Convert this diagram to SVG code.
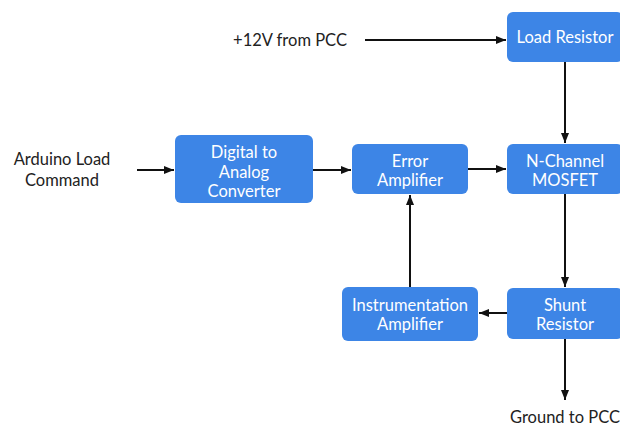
<svg xmlns="http://www.w3.org/2000/svg" width="620" height="426" viewBox="0 0 620 426">
<defs>
<marker id="ah" viewBox="0 0 10 10" refX="10" refY="5" markerWidth="10" markerHeight="10" markerUnits="userSpaceOnUse" orient="auto">
<path d="M0,1 L10,5 L0,9 z" fill="#111"/>
</marker>
<style>
.box{fill:#3d85e6;}
.bt{font-family:Lato,"Open Sans",sans-serif;font-size:16.5px;fill:#fff;text-anchor:middle;}
.lt{font-family:Lato,"Open Sans",sans-serif;font-size:16.5px;fill:#222;text-anchor:middle;}
.c{stroke:#111;stroke-width:2;fill:none;marker-end:url(#ah);}
</style>
</defs>
<rect width="620" height="426" fill="#fff"/>
<g id="connectors">
<line class="c" x1="365" y1="40" x2="506" y2="40"/>
<line class="c" x1="137" y1="170" x2="174" y2="170"/>
<line class="c" x1="313" y1="170" x2="351" y2="170"/>
<line class="c" x1="468" y1="169" x2="506" y2="169"/>
<line class="c" x1="565" y1="62" x2="565" y2="143"/>
<line class="c" x1="565" y1="194" x2="565" y2="287"/>
<line class="c" x1="507" y1="313" x2="479" y2="313"/>
<line class="c" x1="410" y1="287" x2="410" y2="195"/>
<line class="c" x1="565" y1="339" x2="565" y2="400"/>
</g>
<g id="label-12v"><text class="lt" x="290" y="46">+12V from PCC</text></g>
<g id="label-arduino"><text class="lt" x="62" y="165">Arduino Load</text><text class="lt" x="62" y="186">Command</text></g>
<g id="label-ground"><text class="lt" x="565" y="423">Ground to PCC</text></g>
<g id="load-resistor"><rect class="box" x="507" y="12" width="116" height="50" rx="6"/><text class="bt" x="565" y="43">Load Resistor</text></g>
<g id="dac"><rect class="box" x="175" y="135" width="138" height="68" rx="6"/><text class="bt" x="244" y="158">Digital to</text><text class="bt" x="244" y="178">Analog</text><text class="bt" x="244" y="197">Converter</text></g>
<g id="error-amp"><rect class="box" x="352" y="144" width="116" height="50" rx="6"/><text class="bt" x="410" y="167">Error</text><text class="bt" x="410" y="186">Amplifier</text></g>
<g id="mosfet"><rect class="box" x="507" y="144" width="116" height="50" rx="6"/><text class="bt" x="565" y="167">N-Channel</text><text class="bt" x="565" y="186">MOSFET</text></g>
<g id="inst-amp"><rect class="box" x="342" y="287" width="136" height="54" rx="6"/><text class="bt" x="410" y="311">Instrumentation</text><text class="bt" x="410" y="330">Amplifier</text></g>
<g id="shunt"><rect class="box" x="507" y="288" width="116" height="51" rx="6"/><text class="bt" x="565" y="311">Shunt</text><text class="bt" x="565" y="330">Resistor</text></g>
</svg>
